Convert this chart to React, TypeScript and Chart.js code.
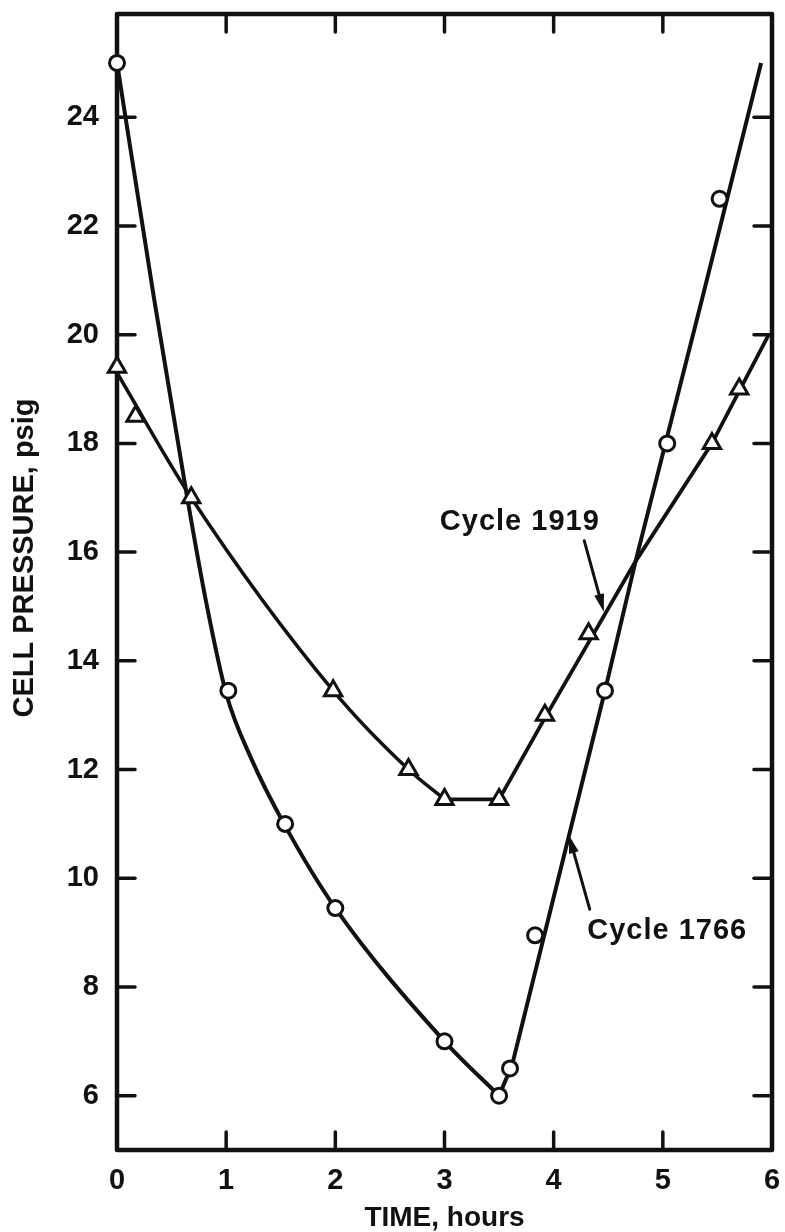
import React, { useEffect, useRef } from 'react';
import { Chart, registerables } from 'chart.js';

Chart.register(...registerables);

// Axis ticks
const xTicks = [0, 1, 2, 3, 4, 5, 6];
const yTicks = [6, 8, 10, 12, 14, 16, 18, 20, 22, 24];
const xMin = 0;
const xMax = 6;
const yMin = 5;
const yMax = 25.9;

// Cycle 1766 (circles) measured points
const c1766X = [0, 1.02, 1.54, 2.0, 3.0, 3.5, 3.6, 3.83, 4.47, 5.04, 5.52];
const c1766Y = [25.0, 13.45, 11.0, 9.45, 7.0, 6.0, 6.5, 8.95, 13.45, 18.0, 22.5];
// Cycle 1766 drawn curve (falling part, smooth) and rising part (straight)
const c1766FallX = [0, 0.34, 0.64, 0.81, 1.0, 1.23, 1.53, 2.0, 3.0, 3.5];
const c1766FallY = [25.0, 20.66, 17.04, 15.15, 13.4, 12.2, 11.0, 9.45, 7.0, 6.0];
const c1766RiseX = [3.5, 3.62, 4.0, 4.47, 4.75, 5.36, 5.9];
const c1766RiseY = [6.0, 6.57, 9.65, 13.45, 15.83, 20.66, 25.0];

// Cycle 1919 (triangles) measured points
const c1919X = [0, 0.17, 0.68, 1.98, 2.67, 3.0, 3.5, 3.92, 4.32, 5.45, 5.7];
const c1919Y = [19.4, 18.5, 17.0, 13.45, 12.0, 11.45, 11.45, 13.0, 14.5, 18.0, 19.0];
// Cycle 1919 drawn curve
const c1919FallX = [0, 0.68, 1.98, 2.67, 3.0];
const c1919FallY = [19.3, 17.0, 13.45, 12.0, 11.45];
const c1919RiseX = [3.0, 3.5, 3.92, 4.75, 5.45, 5.97];
const c1919RiseY = [11.45, 11.45, 12.95, 15.83, 18.0, 20.0];

// Annotations
const noteText = ['Cycle 1919', 'Cycle 1766'];
const noteX = [3.69, 5.04];
const noteY = [16.56, 9.03];
const arrowFromX = [4.28, 4.33];
const arrowFromY = [16.21, 9.43];
const arrowToX = [4.46, 4.14];
const arrowToY = [14.9, 10.79];

const xTitle = 'TIME, hours';
const yTitle = 'CELL PRESSURE, psig';

const FONT = '"Liberation Sans", Arial, Helvetica, sans-serif';
const INK = '#111111';

const pts = (xs: number[], ys: number[]) => xs.map((x, i) => ({ x, y: ys[i] }));

const framePlugin = {
  id: 'frameTicks',
  beforeDatasetsDraw(chart: any) {
    const { ctx, chartArea: a, scales } = chart;
    ctx.save();
    ctx.strokeStyle = INK;
    ctx.lineWidth = 4.5;
    ctx.lineJoin = 'round';
    ctx.strokeRect(a.left, a.top, a.right - a.left, a.bottom - a.top);
    ctx.lineWidth = 3.5;
    ctx.lineCap = 'round';
    const L = 18;
    const seg = (x1: number, y1: number, x2: number, y2: number) => {
      ctx.beginPath();
      ctx.moveTo(x1, y1);
      ctx.lineTo(x2, y2);
      ctx.stroke();
    };
    yTicks.forEach((v) => {
      const py = scales.y.getPixelForValue(v);
      seg(a.left, py, a.left + L, py);
      seg(a.right, py, a.right - L, py);
    });
    xTicks.forEach((v) => {
      if (v === xMin || v === xMax) return;
      const px = scales.x.getPixelForValue(v);
      seg(px, a.bottom, px, a.bottom - L);
      seg(px, a.top, px, a.top + L);
    });
    // y axis title
    ctx.fillStyle = INK;
    ctx.font = `bold 29px ${FONT}`;
    ctx.textAlign = 'center';
    ctx.textBaseline = 'middle';
    ctx.translate(25, (a.top + a.bottom) / 2 - 24);
    ctx.rotate(-Math.PI / 2);
    ctx.fillText(yTitle, 0, 0);
    ctx.restore();
  },
  afterDatasetsDraw(chart: any) {
    const { ctx, scales } = chart;
    ctx.save();
    ctx.fillStyle = INK;
    ctx.strokeStyle = INK;
    ctx.font = `bold 29px ${FONT}`;
    ctx.textAlign = 'center';
    ctx.textBaseline = 'middle';
    try { (ctx as any).letterSpacing = '1px'; } catch (e) {}
    noteText.forEach((t, i) => {
      ctx.fillText(t, scales.x.getPixelForValue(noteX[i]), scales.y.getPixelForValue(noteY[i]));
    });
    try { (ctx as any).letterSpacing = '0px'; } catch (e) {}
    ctx.lineWidth = 3;
    ctx.lineCap = 'round';
    arrowFromX.forEach((_, i) => {
      const x1 = scales.x.getPixelForValue(arrowFromX[i]);
      const y1 = scales.y.getPixelForValue(arrowFromY[i]);
      const x2 = scales.x.getPixelForValue(arrowToX[i]);
      const y2 = scales.y.getPixelForValue(arrowToY[i]);
      const ang = Math.atan2(y2 - y1, x2 - x1);
      const hl = 18;
      const hw = 5;
      const bx = x2 - hl * Math.cos(ang);
      const by = y2 - hl * Math.sin(ang);
      ctx.beginPath();
      ctx.moveTo(x1, y1);
      ctx.lineTo(bx, by);
      ctx.stroke();
      ctx.beginPath();
      ctx.moveTo(x2, y2);
      ctx.lineTo(bx + hw * Math.sin(ang), by - hw * Math.cos(ang));
      ctx.lineTo(bx - hw * Math.sin(ang), by + hw * Math.cos(ang));
      ctx.closePath();
      ctx.fill();
    });
    ctx.restore();
  },
};

export default function App() {
  const ref = useRef<HTMLCanvasElement>(null);
  useEffect(() => {
    const markerBase = {
      showLine: false,
      pointBackgroundColor: '#ffffff',
      pointBorderColor: INK,
      pointBorderWidth: 3,
      clip: false as any,
    };
    const curveBase = {
      pointRadius: 0,
      borderColor: INK,
      fill: false,
      clip: false as any,
    };
    const chart = new Chart(ref.current as HTMLCanvasElement, {
      type: 'line',
      data: {
        datasets: [
          { ...markerBase, label: 'Cycle 1766', data: pts(c1766X, c1766Y), pointStyle: 'circle', pointRadius: 7.5 },
          { ...markerBase, label: 'Cycle 1919', data: pts(c1919X, c1919Y), pointStyle: 'triangle', pointRadius: 10 },
          { ...curveBase, label: 'Cycle 1766 fit a', data: pts(c1766FallX, c1766FallY), borderWidth: 4, cubicInterpolationMode: 'monotone' },
          { ...curveBase, label: 'Cycle 1766 fit b', data: pts(c1766RiseX, c1766RiseY), borderWidth: 4, tension: 0 },
          { ...curveBase, label: 'Cycle 1919 fit a', data: pts(c1919FallX, c1919FallY), borderWidth: 3.5, cubicInterpolationMode: 'monotone' },
          { ...curveBase, label: 'Cycle 1919 fit b', data: pts(c1919RiseX, c1919RiseY), borderWidth: 3.8, tension: 0 },
        ] as any,
      },
      options: {
        responsive: false,
        animation: false,
        devicePixelRatio: 1,
        layout: { padding: { top: 14, right: 5, left: 0, bottom: 0 } },
        plugins: { legend: { display: false }, tooltip: { enabled: false } },
        scales: {
          x: {
            type: 'linear',
            min: xMin,
            max: xMax,
            grid: { display: false },
            border: { display: false },
            afterBuildTicks: (s: any) => { s.ticks = xTicks.map((v) => ({ value: v })); },
            afterFit: (s: any) => { s.height = 82; s.paddingLeft = 0; s.paddingRight = 0; },
            ticks: {
              color: INK,
              padding: 6,
              maxRotation: 0,
              autoSkip: false,
              font: { family: FONT, size: 29, weight: 'bold' },
            },
            title: {
              display: true,
              text: xTitle,
              color: INK,
              padding: 0,
              font: { family: FONT, size: 28, weight: 'bold', lineHeight: 1 },
            },
          },
          y: {
            type: 'linear',
            min: yMin,
            max: yMax,
            grid: { display: false },
            border: { display: false },
            afterBuildTicks: (s: any) => { s.ticks = yTicks.map((v) => ({ value: v })); },
            afterFit: (s: any) => { s.width = 117; s.paddingTop = 0; s.paddingBottom = 0; },
            ticks: {
              color: INK,
              padding: 10,
              autoSkip: false,
              font: { family: FONT, size: 29, weight: 'bold' },
            },
          },
        },
      } as any,
      plugins: [framePlugin],
    });
    return () => chart.destroy();
  }, []);
  return (
    <div style={{ position: 'absolute', left: 0, top: 0, width: 785, height: 1232, background: '#ffffff' }}>
      <canvas ref={ref} width={785} height={1232} style={{ display: 'block', width: 785, height: 1232 }} />
    </div>
  );
}
